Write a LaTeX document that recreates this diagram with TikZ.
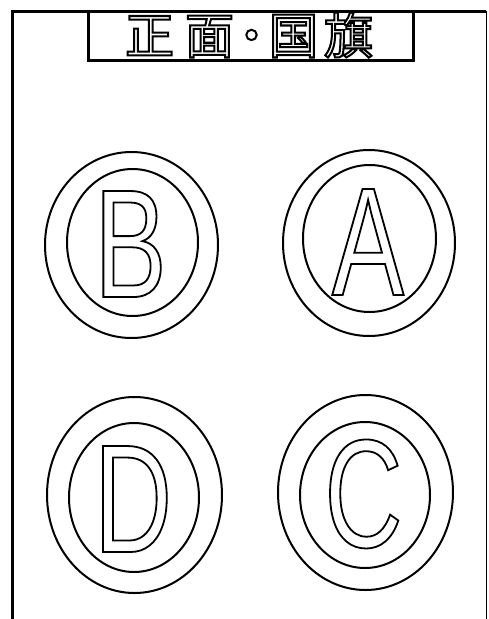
\documentclass[tikz,border=0pt]{standalone}
\usepackage{fontspec}
\newfontfamily\titlefont{Noto Sans CJK JP}
\newfontfamily\letterfont[FakeStretch=0.7]{Liberation Sans}
\newcommand{\hollow}[2]{\special{pdf:literal direct 1 Tr #1 w}#2\special{pdf:literal direct 0 Tr}}
\begin{document}
\begin{tikzpicture}[x=1pt,y=-1pt,
  frame/.style={line width=3pt},
  thinframe/.style={line width=1pt},
  ring/.style={line width=2pt},
  letter/.style={inner sep=0pt,anchor=base,font=\letterfont\fontsize{154}{160}\selectfont},
  heading/.style={inner sep=0pt,anchor=center,font=\titlefont\fontsize{49}{52}\selectfont}]
\useasboundingbox (0,0) rectangle (488,619);
\fill[white] (0,0) rectangle (488,619);
% frame
\draw[frame] (12.5,619) -- (12.5,11) -- (486,11);
\draw[thinframe] (486,11) -- (486,619);
\draw[frame] (88,11) rectangle (413,60);
\node[heading] (title) at (249,35) {\hollow{2}{正\kern11pt 面\kern-7pt ・\kern-7pt 国\kern6pt 旗}};
% B
\draw[ring] (131.5,245) ellipse [x radius=86.5, y radius=93];
\draw[ring] (132.5,242.5) ellipse [x radius=65.5, y radius=73.5];
\node[letter] (b) at (130.5,297) {\hollow{1.8}{B}};
% A
\draw[ring] (369,243) ellipse [x radius=86, y radius=93];
\draw[ring] (369.5,238.5) ellipse [x radius=66.5, y radius=73.5];
\node[letter] (a) at (368,295) {\hollow{1.8}{A}};
% D
\draw[ring] (134.5,495) ellipse [x radius=87.5, y radius=98];
\draw[ring] (134,497.5) ellipse [x radius=65, y radius=74.5];
\node[letter] (d) at (133,552) {\hollow{1.8}{D}};
% C
\draw[ring] (365.5,492.5) ellipse [x radius=87.5, y radius=97.5];
\draw[ring] (365,495) ellipse [x radius=65, y radius=73];
\node[letter] (c) at (363.5,547) {\hollow{1.8}{C}};
\end{tikzpicture}
\end{document}
